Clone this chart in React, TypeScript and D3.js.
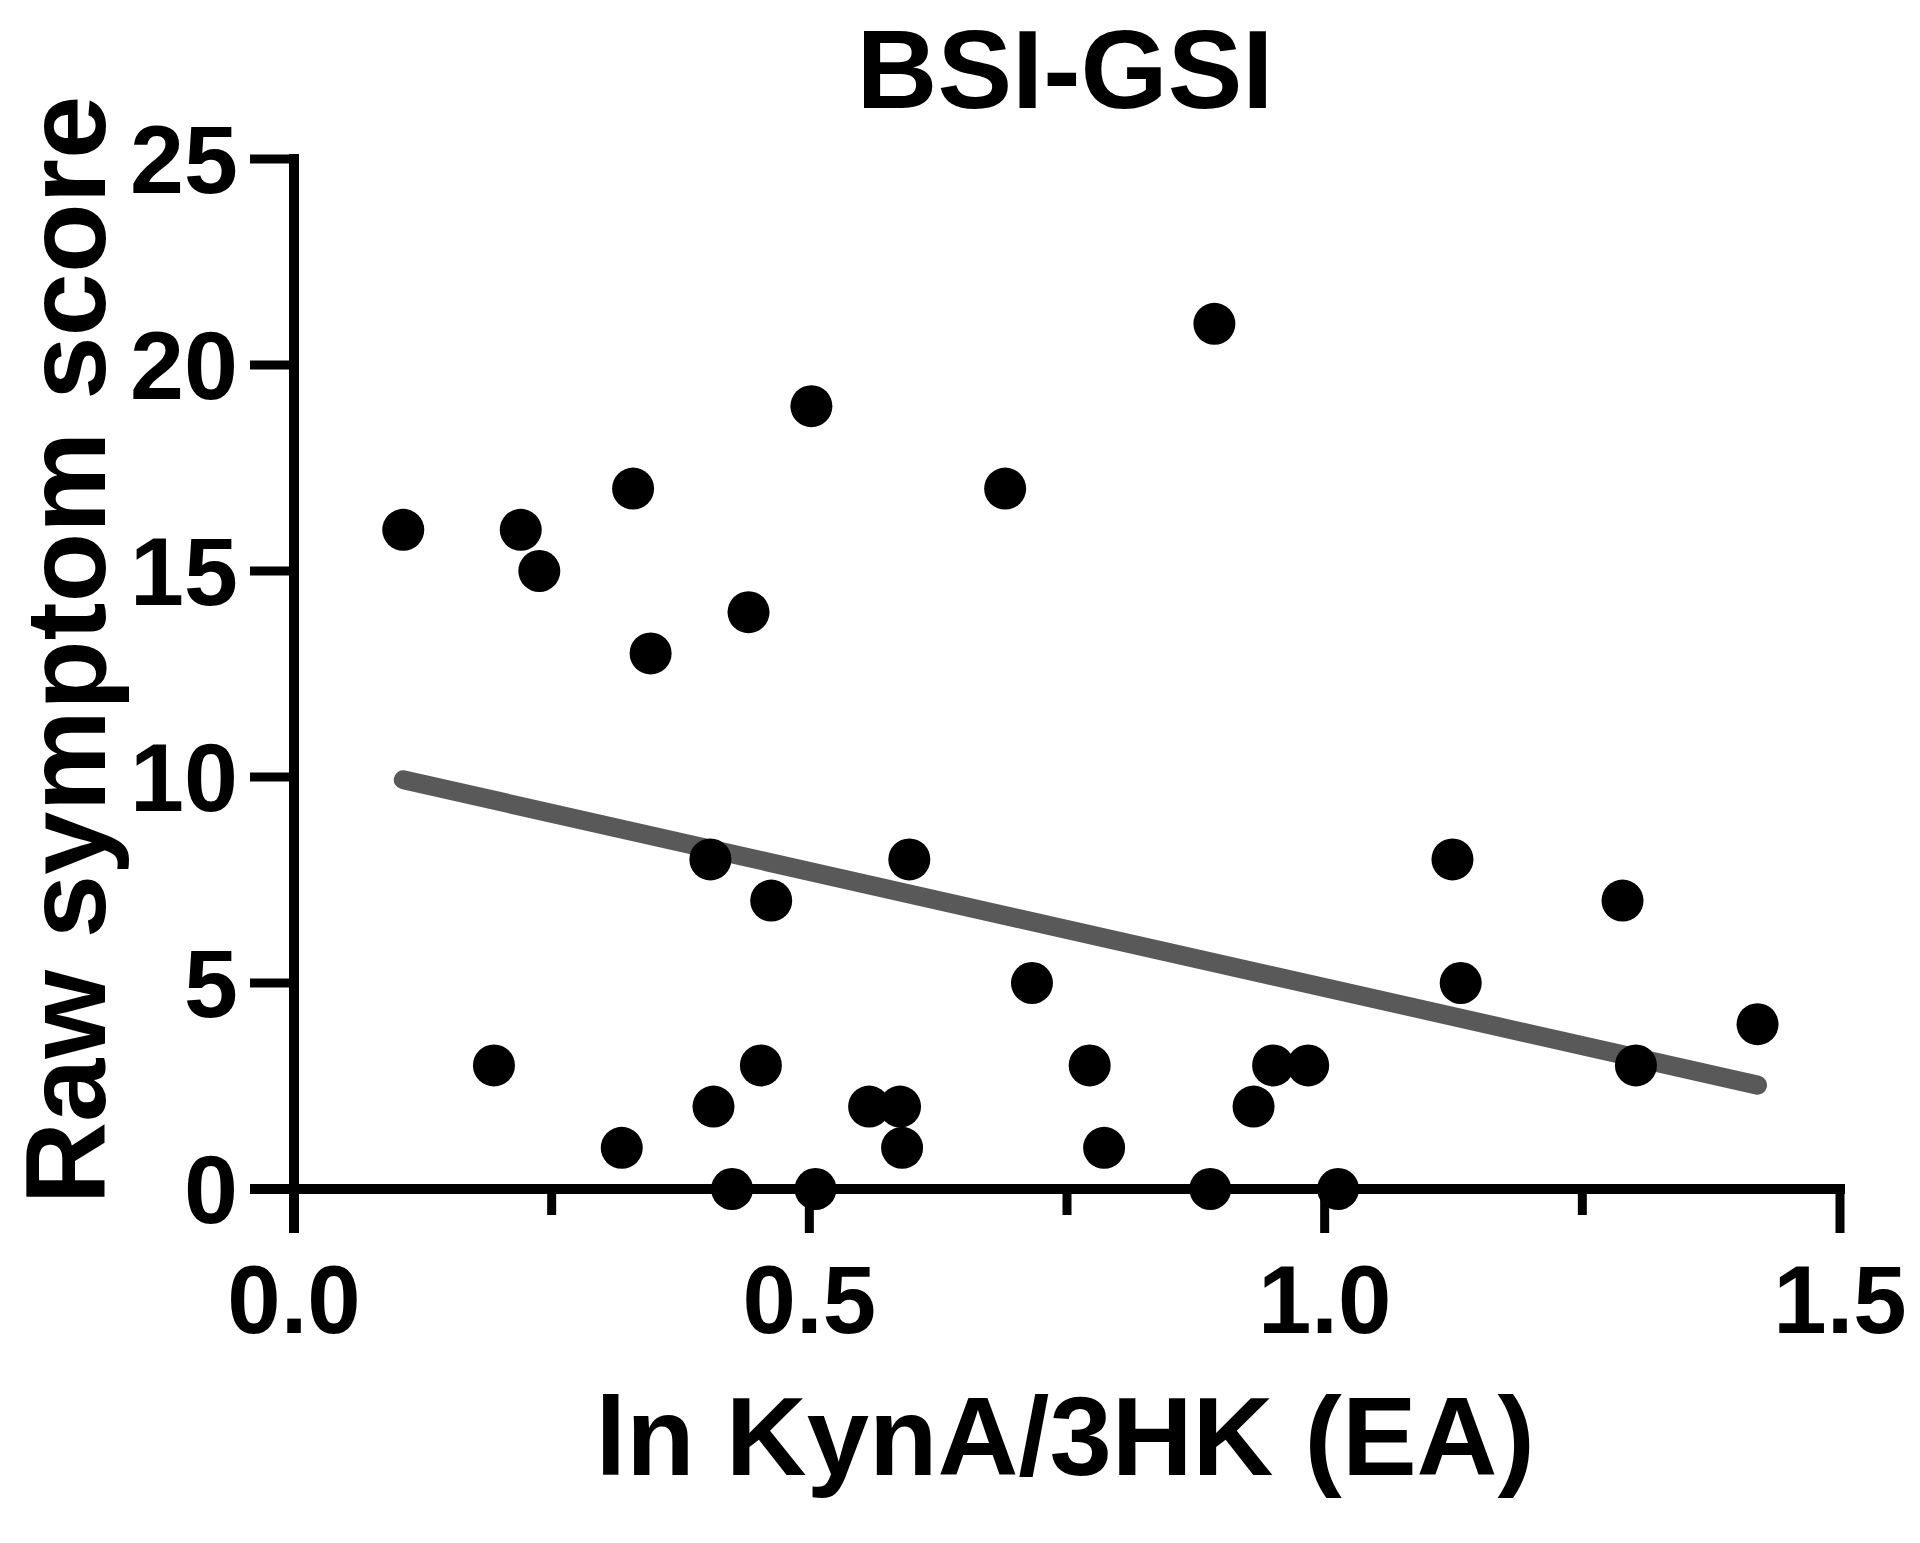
import * as d3 from "d3";
import React from "react";

// chart data
const kynRatio = [
  0.106, 0.194, 0.220, 0.238, 0.318, 0.329, 0.346, 0.404, 0.407, 0.425, 0.441, 0.453,
  0.463, 0.502, 0.506, 0.558, 0.588, 0.590, 0.597, 0.690, 0.716, 0.772, 0.786, 0.889,
  0.893, 0.931, 0.950, 0.984, 1.013, 1.124, 1.132, 1.289, 1.302, 1.420,
];
const symptomScore = [
  16, 3, 16, 15, 1, 17, 13, 8, 2, 0, 14, 3,
  7, 19, 0, 2, 2, 1, 8, 17, 5, 3, 1, 0,
  21, 2, 3, 3, 0, 8, 5, 7, 3, 4,
];
// fitted line as drawn (slope / intercept)
const fitSlope = -5.64;
const fitIntercept = 10.53;

const xTicks = [0, 0.5, 1.0, 1.5];
const xMinorTicks = [0.25, 0.75, 1.25];
const yTicks = [0, 5, 10, 15, 20, 25];

const title = "BSI-GSI";
const xLabel = "ln KynA/3HK (EA)";
const yLabel = "Raw symptom score";

const width = 1920;
const height = 1543;
const font = "'Liberation Sans', Arial, Helvetica, sans-serif";

export default function App() {
  const x = d3.scaleLinear().domain([0, 1.5]).range([294, 1840]);
  const y = d3.scaleLinear().domain([0, 25]).range([1189, 159]);

  const points = kynRatio.map((v, i) => ({ x: v, y: symptomScore[i] }));
  const xMin = d3.min(kynRatio) as number;
  const xMax = d3.max(kynRatio) as number;
  const fit = [xMin, xMax].map((v) => [v, fitIntercept + fitSlope * v] as [number, number]);
  const fitLine = d3
    .line<[number, number]>()
    .x((d) => x(d[0]))
    .y((d) => y(d[1]));

  const axisW = 10;
  const tickW = 9;

  return (
    <svg
      width={width}
      height={height}
      viewBox={`0 0 ${width} ${height}`}
      style={{ position: "absolute", left: 0, top: 0, background: "#fff" }}
    >
      <rect width={width} height={height} fill="#fff" />
      {/* title */}
      <text
        x={1065}
        y={108}
        textAnchor="middle"
        fontFamily={font}
        fontWeight="bold"
        fontSize={112}
      >
        {title}
      </text>

      {/* y axis */}
      <line x1={x(0)} x2={x(0)} y1={y(25) - axisW / 2} y2={y(0) + 44} stroke="#000" strokeWidth={axisW} />
      {yTicks.map((t) => (
        <g key={"y" + t}>
          <line x1={x(0) - 44} x2={x(0)} y1={y(t)} y2={y(t)} stroke="#000" strokeWidth={tickW} />
          <text
            x={x(0) - 56}
            y={y(t)}
            dy="0.35em"
            textAnchor="end"
            fontFamily={font}
            fontWeight="bold"
            fontSize={97}
          >
            {t}
          </text>
        </g>
      ))}

      {/* x axis */}
      <line x1={x(0) - 44} x2={x(1.5) + axisW / 2} y1={y(0)} y2={y(0)} stroke="#000" strokeWidth={axisW} />
      {xTicks.map((t) => (
        <g key={"x" + t}>
          <line x1={x(t)} x2={x(t)} y1={y(0)} y2={y(0) + 44} stroke="#000" strokeWidth={tickW} />
          <text
            x={x(t)}
            y={y(0) + 144}
            textAnchor="middle"
            fontFamily={font}
            fontWeight="bold"
            fontSize={96}
          >
            {t.toFixed(1)}
          </text>
        </g>
      ))}
      {xMinorTicks.map((t) => (
        <line key={"m" + t} x1={x(t)} x2={x(t)} y1={y(0)} y2={y(0) + 26} stroke="#000" strokeWidth={tickW} />
      ))}

      {/* regression line (under the points) */}
      <path
        d={fitLine(fit) || ""}
        fill="none"
        stroke="#595959"
        strokeWidth={19}
        strokeLinecap="round"
      />

      {/* points */}
      {points.map((p, i) => (
        <circle key={i} cx={x(p.x)} cy={y(p.y)} r={21} fill="#000" />
      ))}

      {/* axis labels */}
      <text
        x={1065}
        y={1475}
        textAnchor="middle"
        fontFamily={font}
        fontWeight="bold"
        fontSize={112}
      >
        {xLabel}
      </text>
      <text
        transform={`translate(105, 650) rotate(-90)`}
        textAnchor="middle"
        fontFamily={font}
        fontWeight="bold"
        fontSize={114}
      >
        {yLabel}
      </text>
    </svg>
  );
}
